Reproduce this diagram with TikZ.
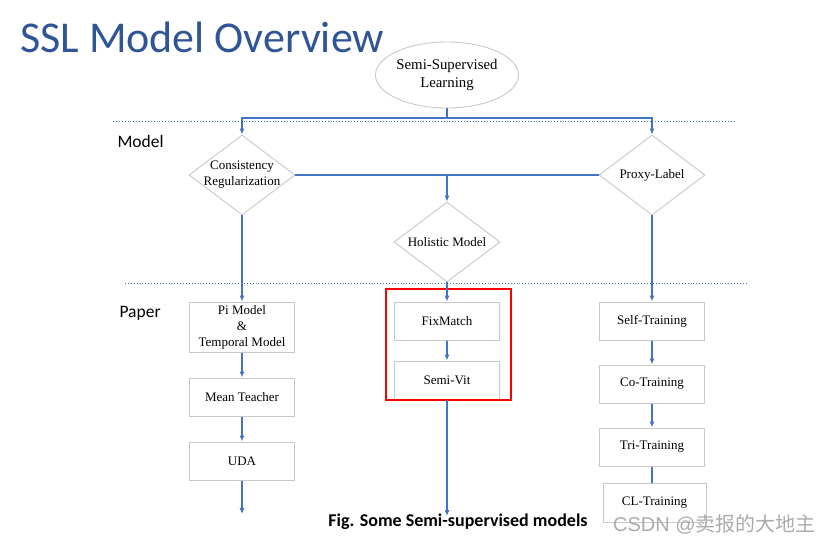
\documentclass[tikz,border=0pt]{standalone}
\usepackage{fontspec}
\setmainfont{Liberation Serif}
\newfontfamily\calibri{Carlito}
\newfontfamily\marksans{Liberation Sans}
\newfontfamily\cjk{Noto Sans CJK SC}
\usetikzlibrary{shapes.geometric, arrows.meta}

\definecolor{lineblue}{RGB}{68,114,196}
\definecolor{titleblue}{RGB}{47,85,151}
\definecolor{boxgray}{RGB}{200,200,200}

\tikzset{
  flow/.style={draw=lineblue, line width=1.1pt, -{Latex[length=6pt,width=5pt]}},
  plain/.style={draw=lineblue, line width=1.1pt},
  sepline/.style={draw=lineblue, dotted, line width=0.9pt},
  paperbox/.style={draw=boxgray, line width=1pt, minimum width=105pt, minimum height=38pt,
    inner sep=2pt, align=center, font=\fontsize{13}{16}\selectfont},
  modeldia/.style={diamond, draw=boxgray, line width=0.9pt, minimum width=106pt, minimum height=80pt,
    aspect=1.3, inner sep=-12pt, align=center, font=\fontsize{13}{16}\selectfont},
  rowlabel/.style={anchor=west, font=\calibri\fontsize{17.5}{20}\selectfont},
}

\begin{document}
\begin{tikzpicture}[x=1pt, y=-1pt]
\useasboundingbox (0,0) rectangle (834,545);
% Title
\node[anchor=base west, inner sep=0pt, text=titleblue, font=\calibri\fontsize{44}{48}\selectfont] (title) at (20,53) {SSL Model Overview};
% Root
\node[ellipse, draw=boxgray, line width=0.9pt, minimum width=134pt, minimum height=66pt, inner sep=0pt, align=center,
  font=\fontsize{14.8}{18}\selectfont] (ssl) at (447,75) {Semi-Supervised\\Learning};
% Row separators and labels
\draw[sepline] (113,121) -- (736,121);
\draw[sepline] (125,283) -- (747,283);
\node[rowlabel] (model) at (114,141) {Model};
\node[rowlabel] (paper) at (116,313) {Paper};
% Models
\node[modeldia] (cons) at (242,175) {Consistency\\Regularization};
\node[modeldia] (proxy) at (652,175) {Proxy-Label};
\node[modeldia] (holistic) at (447,242) {Holistic Model};
\coordinate (split) at (447,118);
\coordinate (join) at (447,175);
\draw[plain] (ssl) -- (split);
\draw[flow] (split) -| (cons.north);
\draw[flow] (split) -| (proxy.north);
\draw[plain] (cons.east) -- (proxy.west);
\draw[flow] (join) -- (holistic.north);
% Papers: consistency regularization
\node[paperbox, minimum height=50pt] (pi) at (242,327) {Pi Model\\\&\\Temporal Model};
\node[paperbox] (mean) at (242,397) {Mean Teacher};
\node[paperbox] (uda) at (242,461) {UDA};
\coordinate (uda-end) at (242,514);
\draw[flow] (cons.south) -- (pi.north);
\draw[flow] (pi) -- (mean);
\draw[flow] (mean) -- (uda);
\draw[flow] (uda) -- (uda-end);
% Papers: holistic
\node[paperbox] (fixmatch) at (447,321) {FixMatch};
\node[paperbox] (semivit) at (447,380) {Semi-Vit};
\draw[red, line width=1.1pt] (386,289) rectangle (511,400);
\coordinate (vit-end) at (447,516);
\draw[flow] (holistic.south) -- (fixmatch.north);
\draw[flow] (fixmatch) -- (semivit);
\draw[flow] (semivit) -- (vit-end);
% Papers: proxy-label
\node[paperbox] (self) at (652,321) {Self-Training};
\node[paperbox] (co) at (652,384) {Co-Training};
\node[paperbox] (tri) at (652,447) {Tri-Training};
\node[paperbox, minimum width=103pt, minimum height=39pt] (cl) at (654.5,502.5) {CL-Training};
\draw[flow] (proxy.south) -- (self.north);
\draw[flow] (self) -- (co);
\draw[flow] (co) -- (tri);
\draw[plain] (tri.south) -- (tri.south |- cl.north);
% Caption and mark
\node[font=\calibri\bfseries\fontsize{18}{20}\selectfont] (caption) at (458,522) {Fig. Some Semi-supervised models};
\node[anchor=west, inner sep=0pt, text=black!33, font=\marksans\fontsize{20}{22}\selectfont] (mark) at (613,524) {CSDN @{\cjk 卖报的大地主}};
\end{tikzpicture}
\end{document}
